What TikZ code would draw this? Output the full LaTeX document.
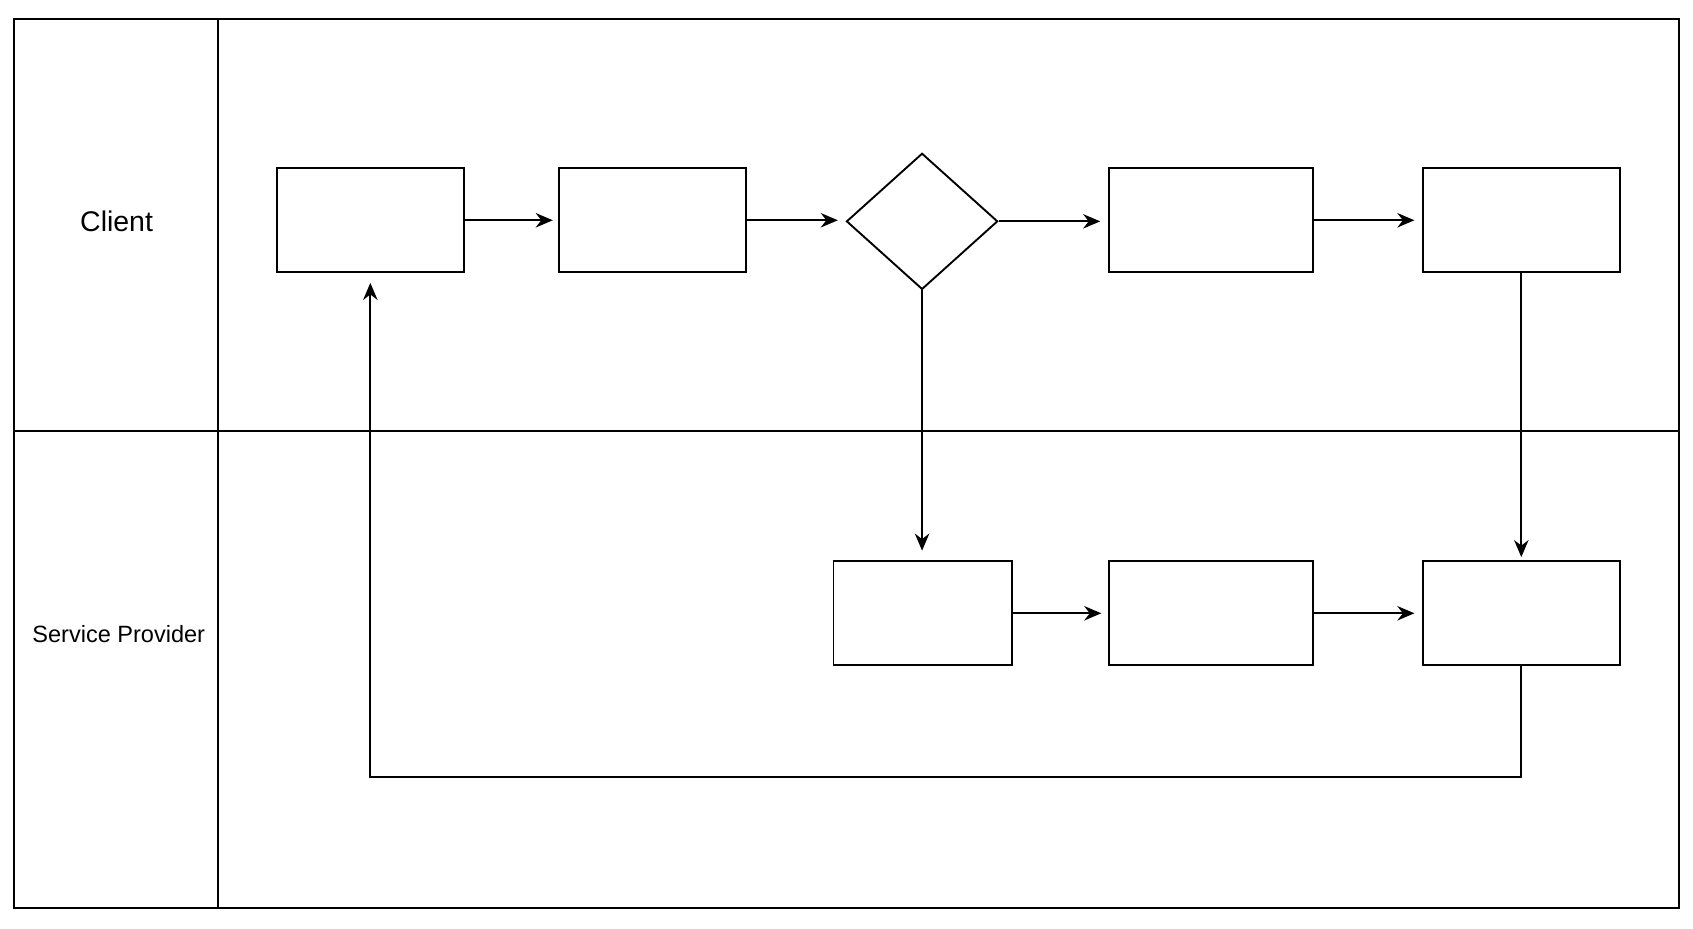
\documentclass[tikz,border=0pt]{standalone}
\usepackage{fontspec}
\setmainfont{Liberation Sans}
\usetikzlibrary{arrows.meta,shapes.geometric}
\begin{document}
\begin{tikzpicture}[x=0.01cm,y=-0.01cm,line width=0.5pt,
  box/.style={draw,rectangle,inner sep=0,minimum height=0.96cm},
  arr/.style={-{Stealth[length=4.5pt,width=3.8pt]}}]
\useasboundingbox (0,0) rectangle (1568,860);
\draw (13,18) rectangle (1555,841);
\draw (202,18) -- (202,841);
\draw (13,399) -- (1555,399);
\node (client) at (108,205) {\fontsize{7.5}{9}\selectfont Client};
\node (sp) at (110,587) {\fontsize{6.2}{7}\selectfont Service Provider};
\node (A) [box,minimum width=1.73cm] at (343.5,204) {};
\node (B) [box,minimum width=1.73cm] at (604.5,204) {};
\node (Q) [draw,diamond,inner sep=0,minimum width=1.40cm,minimum height=1.26cm] at (854,205) {};
\node (C) [box,minimum width=1.89cm] at (1121.5,204) {};
\node (D) [box,minimum width=1.82cm] at (1409,204) {};
\node (E) [box,minimum width=1.65cm] at (854.5,568) {};
\node (F) [box,minimum width=1.89cm] at (1121.5,568) {};
\node (G) [box,minimum width=1.82cm] at (1409,568) {};
\coordinate (Bin) at (512,204);
\coordinate (Din) at (776,204);
\coordinate (Cin) at (1019,205);
\coordinate (D2in) at (1310,204);
\coordinate (Ein) at (854,510);
\coordinate (Fin) at (1020,568);
\coordinate (Gin) at (1310,568);
\coordinate (Gtop) at (1409,516);
\coordinate (Ain) at (343,262);
\coordinate (c1) at (1409,720);
\coordinate (c2) at (343,720);
\draw[arr] (A.east) -- (Bin);
\draw[arr] (B.east) -- (Din);
\draw[arr] (Q.east) -- (Cin);
\draw[arr] (C.east) -- (D2in);
\draw[arr] (Q.south) -- (Ein);
\draw[arr] (D.south) -- (Gtop);
\draw[arr] (E.east) -- (Fin);
\draw[arr] (F.east) -- (Gin);
\draw[arr] (G.south) -- (c1) -- (c2) -- (Ain);
\end{tikzpicture}
\end{document}
